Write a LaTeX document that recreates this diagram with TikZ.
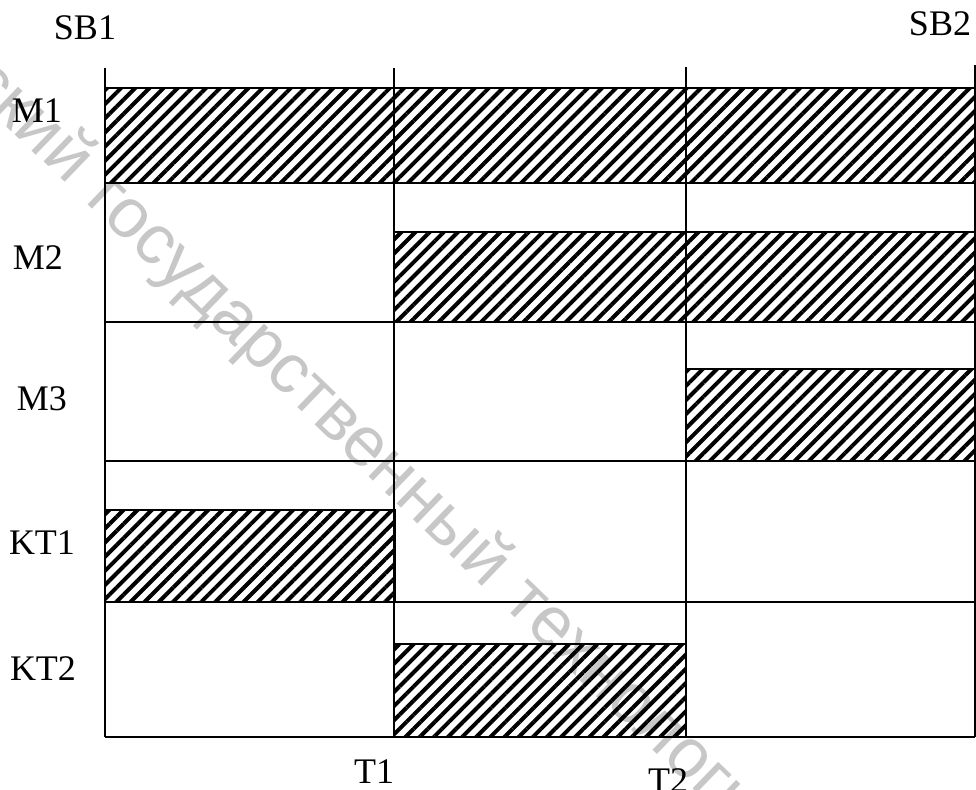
\documentclass[tikz,border=0pt]{standalone}
\usepackage{fontspec}
\setmainfont{Liberation Serif}
\newfontfamily\wmfont{Liberation Sans}
\usetikzlibrary{patterns.meta,calc}
\begin{document}
\begin{tikzpicture}[x=1pt,y=-1pt,
  gridline/.style={line width=1.6pt},
  bar/.style={draw, line width=1.8pt, pattern={Lines[angle=45,distance=10pt,line width=4pt]}},
  lbl/.style={font=\fontsize{36}{40}\selectfont, inner sep=0pt},
  wm/.style={font=\wmfont\fontsize{70}{80}\selectfont, text=black!22, inner sep=0pt, rotate=-44}]
\useasboundingbox (0,0) rectangle (976,789);
\clip (0,0) rectangle (976,789);
% watermark
\node[wm] (w2) at (298,382) {государственный};
\node[wm, anchor=base east] (w1) at ($(w2.base west)!-22pt!(w2.base east)$) {Витебский};
\node[wm, anchor=base west] (w3) at ($(w2.base east)!-22pt!(w2.base west)$) {технологический};
% bars
\draw[bar] (105,88) rectangle (975,183);
\draw[bar] (394,232) rectangle (975,322);
\draw[bar] (686,369) rectangle (975,461);
\draw[bar] (105,510) rectangle (395,602);
\draw[bar] (394,644) rectangle (686,737);
% grid
\draw[gridline] (105,68) -- (105,737);
\draw[gridline] (394,68) -- (394,737);
\draw[gridline] (686,67) -- (686,737);
\draw[gridline] (975,65) -- (975,737);
\foreach \yy in {183,322,461,602,737}
  \draw[gridline] (105,\yy) -- (975,\yy);
% labels
\node[lbl] (sb1) at (85,28) {SB1};
\node[lbl] (sb2) at (940,24) {SB2};
\node[lbl] (m1) at (37,111) {M1};
\node[lbl] (m2) at (38,258) {M2};
\node[lbl] (m3) at (42,399) {M3};
\node[lbl] (kt1) at (42,543) {KT1};
\node[lbl] (kt2) at (43,669) {KT2};
\node[lbl] (t1) at (374,772) {T1};
\node[lbl] (t2) at (668,781) {T2};
\end{tikzpicture}
\end{document}
